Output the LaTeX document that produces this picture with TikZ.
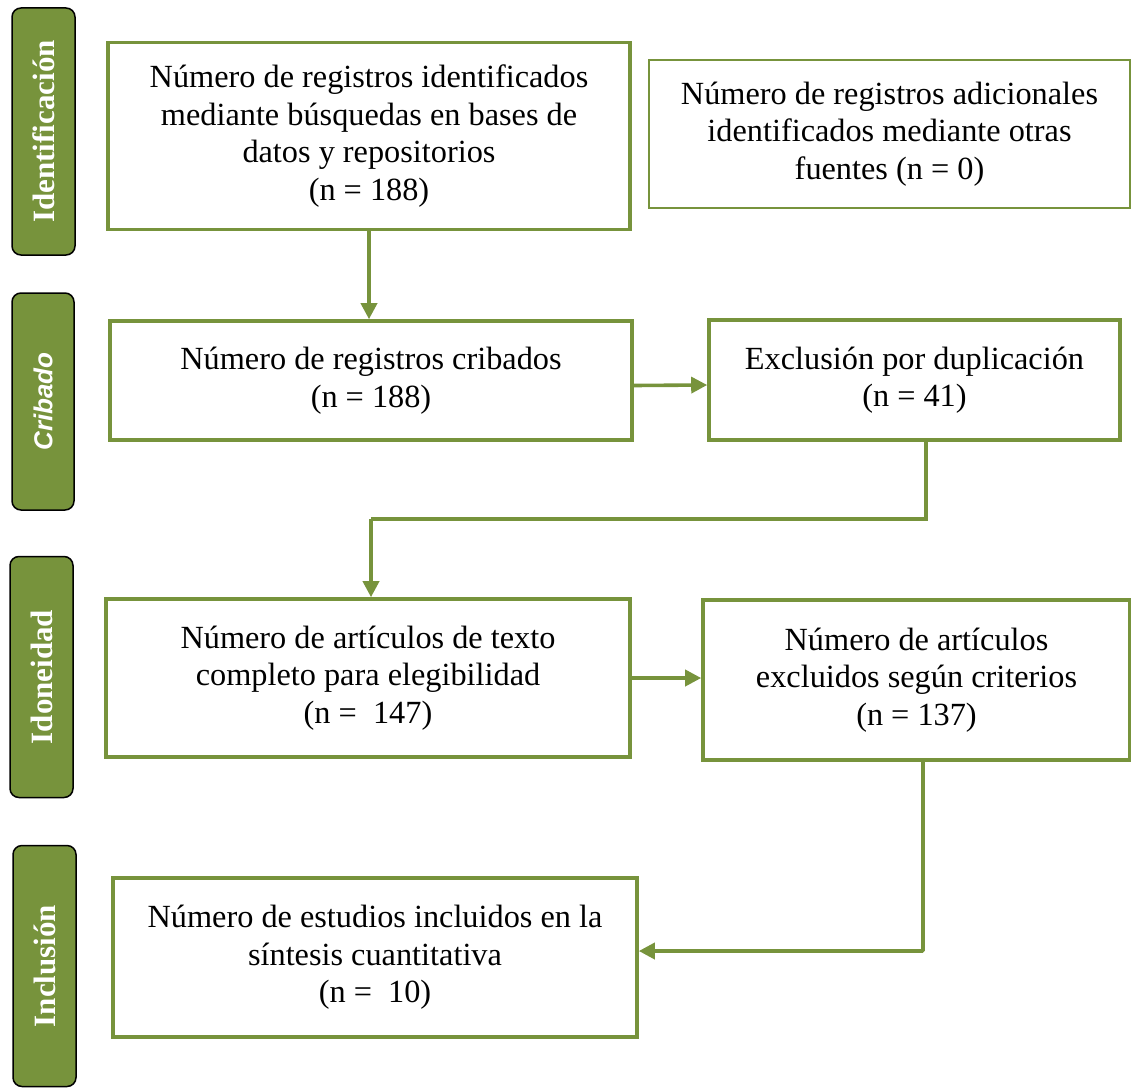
\documentclass[tikz,border=0pt]{standalone}
\usepackage{fontspec}
\setmainfont{Liberation Serif}
\newfontfamily\lsans{Liberation Sans}
\usetikzlibrary{arrows.meta}
\definecolor{pgreen}{RGB}{119,147,60}
\tikzset{
  box/.style={draw=pgreen, line width=3.6pt, fill=white, align=center, inner sep=0pt,
    font=\fontsize{32.3}{37.5}\selectfont},
  thinbox/.style={box, line width=1.8pt},
  side/.style={draw=black, line width=1.5pt, fill=pgreen, rounded corners=9pt, rotate=90,
    text=white, inner sep=0pt, font=\fontsize{31}{36}\selectfont\bfseries},
  arr/.style={draw=pgreen, line width=3.6pt, -{Triangle[length=16pt,width=16pt]}},
  plain/.style={draw=pgreen, line width=3.6pt}
}
\begin{document}
\begin{tikzpicture}[x=1pt,y=-1pt]
\useasboundingbox (0,0) rectangle (1131,1089);
% side labels
\node[side, minimum width=247pt, minimum height=63pt] (s1) at (43.5,131.5) {Identificación};
\node[side, minimum width=217pt, minimum height=62pt, font=\fontsize{26}{30}\selectfont\lsans\bfseries\itshape] (s2) at (43,401.5) {Cribado};
\node[side, minimum width=241pt, minimum height=63pt] (s3) at (41.5,677) {Idoneidad};
\node[side, minimum width=241pt, minimum height=63pt] (s4) at (44.5,966) {Inclusión};
% boxes
\node[box, minimum width=522pt, minimum height=187pt] (b1) at (369,136)
  {Número de registros identificados\\mediante búsquedas en bases de\\datos y repositorios\\(n = 188)};
\node[thinbox, minimum width=481pt, minimum height=148pt] (b2) at (889.5,134)
  {Número de registros adicionales\\identificados mediante otras\\fuentes (n = 0)};
\node[box, minimum width=522pt, minimum height=119pt] (b3) at (371,380.5)
  {Número de registros cribados\\(n = 188)};
\node[box, minimum width=411pt, minimum height=120pt] (b4) at (914.5,380)
  {Exclusión por duplicación\\(n = 41)};
\node[box, minimum width=524pt, minimum height=158pt] (b5) at (368,678)
  {Número de artículos de texto\\completo para elegibilidad\\(n = \ 147)};
\node[box, minimum width=427pt, minimum height=160pt] (b6) at (916.5,680)
  {Número de artículos\\excluidos según criterios\\(n = 137)};
\node[box, minimum width=524pt, minimum height=159pt] (b7) at (375,957.5)
  {Número de estudios incluidos en la\\síntesis cuantitativa\\(n = \ 10)};
% connectors
\draw[arr] (b1.south) -- (b1.south |- b3.north);
\draw[arr] ([yshift=-5pt]b3.east) -- ([yshift=-5pt]b4.west);
\coordinate (j1) at (926,519);
\coordinate (j2) at (371,519);
\draw[plain] (j1 |- b4.south) -- (j1) -- (j2);
\draw[arr] (j2) -- (j2 |- b5.north);
\draw[arr] (b5.east) -- (b5.east -| b6.west);
\coordinate (j3) at (923,951);
\draw[arr, rounded corners=1pt] (j3 |- b6.south) -- (j3) -- (j3 -| b7.east);
\end{tikzpicture}
\end{document}
